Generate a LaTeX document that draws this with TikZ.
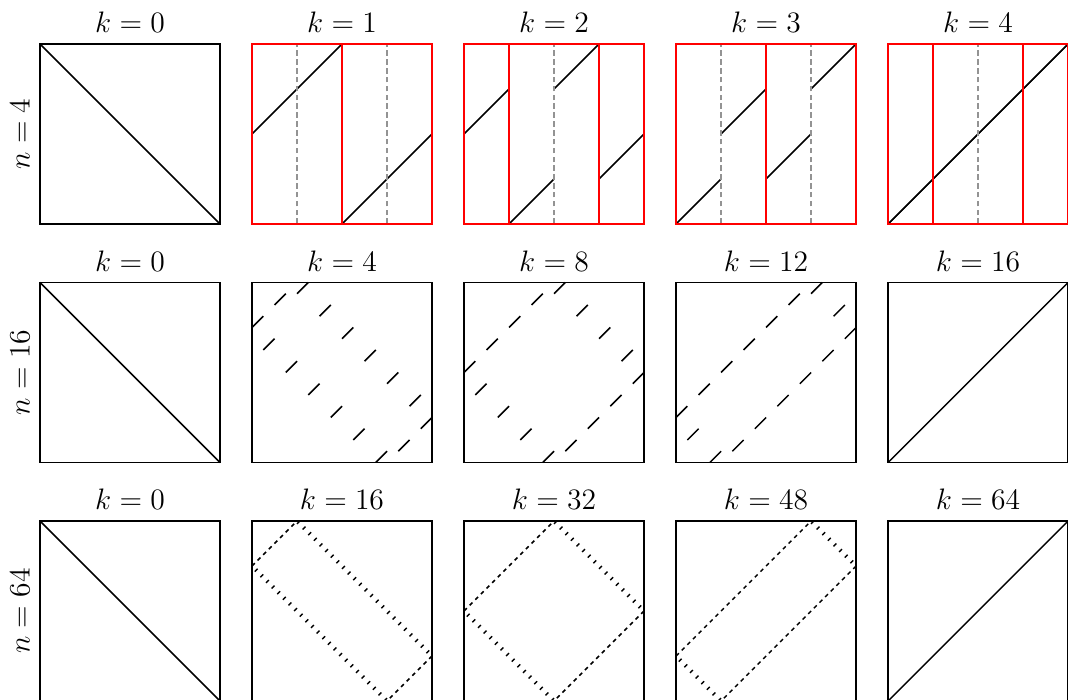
\documentclass[tikz,border=0pt]{standalone}
\newcommand{\plotlabel}[1]{\scalebox{0.93}{\Large$#1$}}
\begin{document}
\begin{tikzpicture}[x=2.86cm,y=2.86cm,line width=0.65pt,
    redline/.style={red,line width=1.05pt},
    guide/.style={gray!85,line width=0.65pt,dash pattern=on 2.5pt off 1.5pt}]
\useasboundingbox (-0.2222,-3.6444) rectangle (5.7111,0.2444);
% frames, labels and the two plain diagonals
\foreach \row/\nn in {0/4,1/16,2/64} {
  \pgfmathsetmacro\yb{-\row*1.325-1}
  \node[rotate=90] (n-\row) at (-0.111,\yb+0.5) {\plotlabel{n=\nn}};
  \foreach \col in {0,...,4} {
    \pgfmathsetmacro\xl{\col*1.1778}
    \pgfmathtruncatemacro\kk{\col*\nn/4}
    \node (k-\row-\col) at (\xl+0.5,\yb+1.12) {\plotlabel{k=\kk}};
    \draw (\xl,\yb) rectangle ++(1,1);
  }
  \draw (0,\yb+1) -- ++(1,-1);
  \draw (4*1.1778,\yb) -- ++(1,1);
}
% n=16 and n=64: rotation of the folded order
\foreach \row/\nn in {1/16,2/64} {
  \pgfmathsetmacro\yb{-\row*1.325-1}
  \pgfmathtruncatemacro\mm{\nn-1}
  \foreach \col in {1,2,3} {
    \pgfmathsetmacro\xl{\col*1.1778}
    \pgfmathtruncatemacro\sh{(\nn-\col*\nn/4)/2}
    \foreach \j in {0,...,\mm} {
      \pgfmathtruncatemacro\pp{mod(\j,2)==0 ? \j/2 : \nn-1-(\j-1)/2}
      \pgfmathtruncatemacro\qq{mod(\pp+\sh,\nn)}
      \pgfmathtruncatemacro\vv{\qq<\nn/2 ? 2*\qq : 2*\nn-1-2*\qq}
      \draw (\xl+\j/\nn,\yb+\vv/\nn) -- ++(1/\nn,1/\nn);
    }
  }
}
% n=4
\foreach \col/\perm/\reds/\grays in {1/{2,3,0,1}/{0.5}/{0.25,0.75},
    2/{2,0,3,1}/{0.25,0.75}/{0.5}, 3/{0,2,1,3}/{0.5}/{0.25,0.75},
    4/{0,1,2,3}/{0.25,0.75}/{0.5}} {
  \pgfmathsetmacro\xl{\col*1.1778}
  \foreach \v [count=\j from 0] in \perm
    \draw (\xl+\j/4,-1+\v/4) -- ++(0.25,0.25);
  \foreach \g in \grays
    \draw[guide] (\xl+\g,-1) -- ++(0,1);
  \foreach \g in \reds
    \draw[redline] (\xl+\g,-1) -- ++(0,1);
  \draw[redline] (\xl,-1) rectangle ++(1,1);
}
\end{tikzpicture}
\end{document}
